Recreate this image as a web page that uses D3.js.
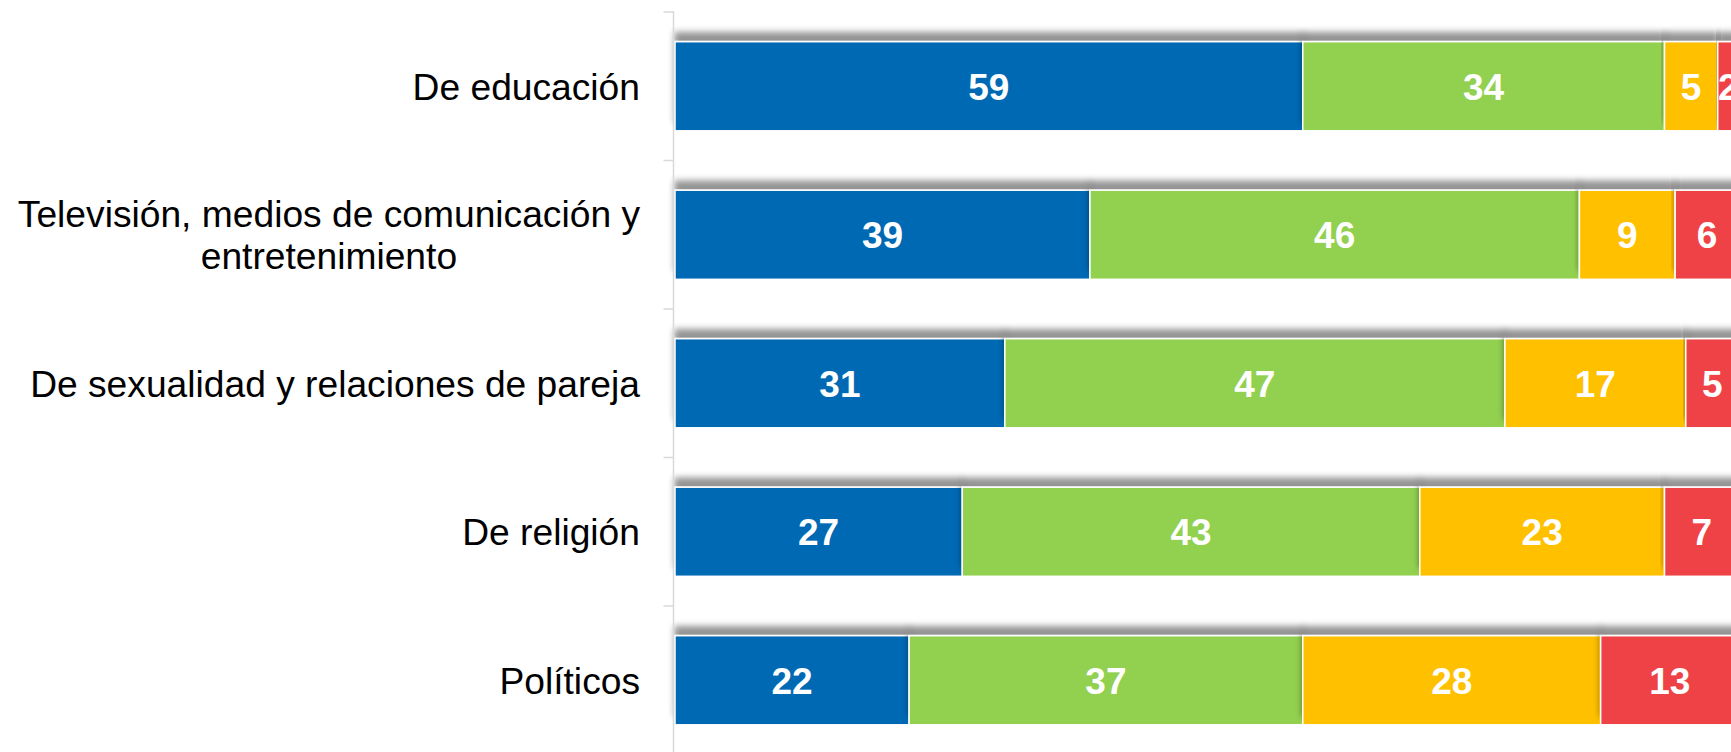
<!DOCTYPE html>
<html>
<head>
<meta charset="utf-8">
<script src="https://cdn.jsdelivr.net/npm/d3@7"></script>
<style>
  html, body { margin: 0; padding: 0; background: #fff; overflow: hidden; }
  svg { display: block; }
</style>
</head>
<body>
<svg id="chart" width="1731" height="752"></svg>
<script>
// Topics and the share of answers in each response group (percent)
const categories = [
  "De educación",
  "Televisión, medios de comunicación y\nentretenimiento",
  "De sexualidad y relaciones de pareja",
  "De religión",
  "Políticos"
];
const seriesA = [59, 39, 31, 27, 22];
const seriesB = [34, 46, 47, 43, 37];
const seriesC = [5, 9, 17, 23, 28];
const seriesD = [2, 6, 5, 7, 13];
const seriesColors = ["#0069B4", "#92D050", "#FFC000", "#EF4246"];

const svg = d3.select("#chart");
const W = 1731, H = 752;

const axisX = 673.5;
const x = d3.scaleLinear().domain([0, 100]).range([675, 1739]);
const y = d3.scaleBand()
  .domain(categories)
  .range([12, 754.5])
  .paddingInner(0.4)
  .paddingOuter(0.2);

// soft grey shadow cast above each segment
const defs = svg.append("defs");
const f = defs.append("filter").attr("id", "lift")
  .attr("x", "-5%").attr("y", "-40%").attr("width", "110%").attr("height", "180%");
f.append("feGaussianBlur").attr("in", "SourceAlpha").attr("stdDeviation", 3).attr("result", "b");
f.append("feOffset").attr("in", "b").attr("dx", 0).attr("dy", -9).attr("result", "o");
f.append("feFlood").attr("flood-color", "#000").attr("flood-opacity", 0.42).attr("result", "c");
f.append("feComposite").attr("in", "c").attr("in2", "o").attr("operator", "in").attr("result", "s");
const m = f.append("feMerge");
m.append("feMergeNode").attr("in", "s");
m.append("feMergeNode").attr("in", "SourceGraphic");

// stacked rows
const rows = categories.map((c, i) => ({
  cat: c,
  vals: [seriesA[i], seriesB[i], seriesC[i], seriesD[i]]
}));
const stackData = rows.map(r => {
  let acc = 0;
  return r.vals.map((v, k) => {
    const d = { cat: r.cat, k, v, x0: acc, x1: acc + v };
    acc += v;
    return d;
  });
});

const gRows = svg.append("g").selectAll("g.row").data(stackData).join("g").attr("class", "row");

gRows.selectAll("rect").data(d => d).join("rect")
  .attr("x", d => x(d.x0))
  .attr("y", d => y(d.cat))
  .attr("width", d => x(d.x1) - x(d.x0))
  .attr("height", y.bandwidth())
  .attr("fill", d => seriesColors[d.k])
  .attr("stroke", "#fff")
  .attr("stroke-width", 1.5)
  .attr("filter", "url(#lift)");

gRows.selectAll("text").data(d => d).join("text")
  .attr("x", d => (x(d.x0) + x(d.x1)) / 2)
  .attr("y", d => y(d.cat) + y.bandwidth() / 2)
  .attr("dy", "0.36em")
  .attr("text-anchor", "middle")
  .attr("fill", "#fff")
  .style("font-family", "Liberation Sans, Arial, sans-serif")
  .style("font-weight", "bold")
  .style("font-size", "37px")
  .text(d => d.v);

// category axis: vertical line with ticks between rows
const axisG = svg.append("g");
axisG.append("line")
  .attr("x1", axisX).attr("x2", axisX)
  .attr("y1", 11).attr("y2", H)
  .attr("stroke", "#d9d9d9").attr("stroke-width", 1.5);
const step = y.step();
const tickYs = d3.range(categories.length).map(i => y(categories[i]) - step * 0.2);
axisG.selectAll("line.tick").data(tickYs).join("line")
  .attr("class", "tick")
  .attr("x1", axisX - 10).attr("x2", axisX)
  .attr("y1", d => d).attr("y2", d => d)
  .attr("stroke", "#d9d9d9").attr("stroke-width", 1.5);

// category labels, centred as a block ending left of the axis
const labelRight = 640;
const lineH = 42;
const labelG = svg.append("g")
  .style("font-family", "Liberation Sans, Arial, sans-serif")
  .style("font-size", "37.2px")
  .attr("fill", "#000");
categories.forEach(c => {
  const lines = c.split("\n");
  const t = labelG.append("text").attr("text-anchor", "middle");
  const cy = y(c) + y.bandwidth() / 2;
  lines.forEach((ln, j) => {
    t.append("tspan")
      .attr("y", cy + (j - (lines.length - 1) / 2) * lineH)
      .attr("dy", "0.36em")
      .text(ln);
  });
  const widths = t.selectAll("tspan").nodes().map(n => n.getComputedTextLength());
  const w = d3.max(widths);
  t.selectAll("tspan").attr("x", labelRight - w / 2);
});
</script>
</body>
</html>
